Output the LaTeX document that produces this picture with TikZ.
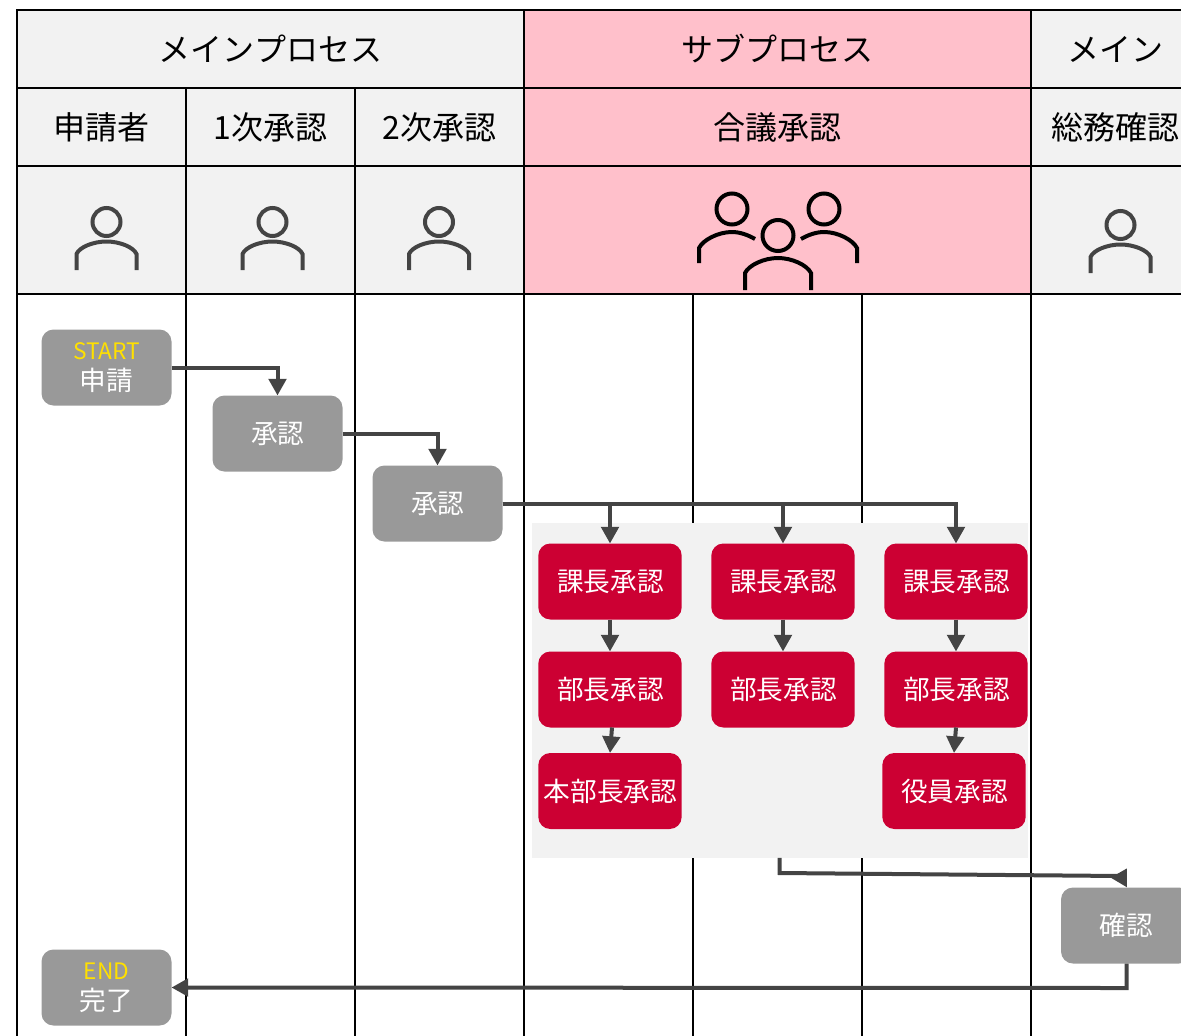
\documentclass[tikz,border=0pt]{standalone}
\usepackage{fontspec}
\setmainfont{Noto Sans CJK JP}
\usetikzlibrary{arrows.meta,positioning}
\definecolor{cellgray}{HTML}{F2F2F2}
\definecolor{cellpink}{HTML}{FFC0CB}
\definecolor{boxgray}{HTML}{999999}
\definecolor{boxred}{HTML}{CC0033}
\definecolor{linedark}{HTML}{444444}
\definecolor{startyellow}{HTML}{FFE000}
\tikzset{
  x=0.75pt,y=-0.75pt,
  cell/.style={draw=black,line width=2.2pt,inner sep=0pt,outer sep=0pt,font=\fontsize{24}{28}\selectfont},
  cellG/.style={cell,fill=cellgray},
  cellP/.style={cell,fill=cellpink},
  w1/.style={minimum width=126.75pt},
  w2/.style={minimum width=380.25pt},
  hr/.style={minimum height=58.5pt},
  hi/.style={minimum height=96pt},
  hb/.style={minimum height=600pt},
  flowbox/.style={rounded corners=9pt,inner sep=0pt,outer sep=0pt,text=white,align=center,font=\fontsize{20}{23}\selectfont},
  graybox/.style={flowbox,fill=boxgray,minimum width=97.5pt,minimum height=57pt},
  redbox/.style={flowbox,fill=boxred,minimum width=107.5pt,minimum height=57pt},
  conn/.style={draw=linedark,line width=3pt,-{Triangle[length=12.5pt,width=13pt]}},
  iconline/.style={line width=3pt,fill=none},
}
\newcommand{\startlabel}[1]{{\fontsize{17}{23}\selectfont\color{startyellow}#1}}
\newcommand{\nudge}[1]{\raisebox{-.75pt}{\kern.5pt #1}}
\newcommand{\hup}[1]{\raisebox{.6pt}{#1}}
\newcommand{\personicon}[3]{%
  \begin{scope}[shift={(#1,#2)},#3,iconline]
    \draw (0,0) circle (14);
    \draw (-30,48) -- (-30,32) .. controls (-27,25) and (-13,19.5) .. (0,19.5) .. controls (13,19.5) and (27,25) .. (30,32) -- (30,48);
  \end{scope}}
\begin{document}
\begin{tikzpicture}
\useasboundingbox (0,0) rectangle (1181,1035);
\clip (0,0) rectangle (1181,1035);
% header row 1
\node[cellG,w2,hr] (main1) at (270.5,49) {\hup{メインプロセス}};
\node[cellP,w2,hr] (sub) at (777.5,49) {\hup{サブプロセス}};
\node[cellG,w1,hr] (main2) at (1115.5,49) {\hup{メイン}};
% header row 2
\node[cellG,w1,hr] (r1) at (101.5,127) {\hup{申請者}};
\node[cellG,w1,hr] (r2) at (270.5,127) {\hup{1次承認}};
\node[cellG,w1,hr] (r3) at (439.5,127) {\hup{2次承認}};
\node[cellP,w2,hr] (r4) at (777.5,127) {\hup{合議承認}};
\node[cellG,w1,hr] (r5) at (1115.5,127) {\hup{総務確認}};
% icon row
\node[cellG,w1,hi] (i1) at (101.5,230) {};
\node[cellG,w1,hi] (i2) at (270.5,230) {};
\node[cellG,w1,hi] (i3) at (439.5,230) {};
\node[cellP,w2,hi] (i4) at (777.5,230) {};
\node[cellG,w1,hi] (i5) at (1115.5,230) {};
% lanes
\node[cell,w1,hb] (l1) at (101.5,694) {};
\node[cell,w1,hb] (l2) at (270.5,694) {};
\node[cell,w1,hb] (l3) at (439.5,694) {};
\node[cell,w1,hb] (l4) at (608.5,694) {};
\node[cell,w1,hb] (l5) at (777.5,694) {};
\node[cell,w1,hb] (l6) at (946.5,694) {};
\node[cell,w1,hb] (l7) at (1115.5,694) {};
% icons
\personicon{106.5}{222}{draw=linedark}
\personicon{272.5}{222}{draw=linedark}
\personicon{439}{222}{draw=linedark}
\personicon{1120.5}{225}{draw=linedark}
\begin{scope}[iconline,draw=black]
  \draw (732,209) circle (15.5);
  \draw (824,209) circle (15.5);
  \draw (778,235.5) circle (15.5);
  \draw (699,263) -- (699,248) .. controls (703,240) and (718,232) .. (732,232) .. controls (740,232) and (748,235) .. (755,239);
  \draw (857,263) -- (857,248) .. controls (853,240) and (838,232) .. (824,232) .. controls (816,232) and (808,235) .. (801,239);
  \draw (745,290) -- (745,273) .. controls (749,265) and (764,258) .. (778,258) .. controls (792,258) and (807,265) .. (811,273) -- (811,290);
\end{scope}
% grey panel
\node[fill=cellgray,minimum width=372pt,minimum height=251pt,inner sep=0pt,outer sep=0pt] (panel) at (780,690.5) {};
% boxes
\node[graybox] (start) at (106.5,367.5) {\startlabel{START}\\申請};
\node[graybox] (a1) at (277.5,433.5) {\nudge{承認}};
\node[graybox] (a2) at (437.5,503.5) {\nudge{承認}};
\node[redbox] (k1) at (610,581.5) {\nudge{課長承認}};
\node[redbox] (k2) at (783,581.5) {\nudge{課長承認}};
\node[redbox] (k3) at (956,581.5) {\nudge{課長承認}};
\node[redbox] (b1) at (610,689.5) {\nudge{部長承認}};
\node[redbox] (b2) at (783,689.5) {\nudge{部長承認}};
\node[redbox] (b3) at (956,689.5) {\nudge{部長承認}};
\node[redbox] (h1) at (610,791) {\nudge{本部長承認}};
\node[redbox] (y3) at (954,791) {\nudge{役員承認}};
\node[graybox] (conf) at (1126,925.5) {\nudge{確認}};
\node[graybox] (end) at (106.5,987.5) {\startlabel{END}\\完了};
% connectors
\draw[conn] (start.east) -| (a1.north);
\draw[conn] (a1.east) -| (a2.north);
\draw[conn] (a2.east) -| (k1.north);
\draw[conn] (a2.east) -| (k2.north);
\draw[conn] (a2.east) -| (k3.north);
\draw[conn] (k1) -- (b1);
\draw[conn] (k2) -- (b2);
\draw[conn] (k3) -- (b3);
\draw[conn] ([xshift=1.5pt]b1.south) -- (h1.north);
\draw[conn] (b3.south) -- (y3.north);
\coordinate (bendA) at (779.5,873);
\coordinate (bendB) at (1120.5,876);
\draw[conn,line join=miter] (panel.south -| bendA) -- (bendA) -- (bendB) -- ([xshift=0.8pt]conf.north);
\coordinate (bendC) at (1126.5,988);
\draw[conn] (conf.south -| bendC) -- (bendC) -- (end.east);
\end{tikzpicture}
\end{document}
